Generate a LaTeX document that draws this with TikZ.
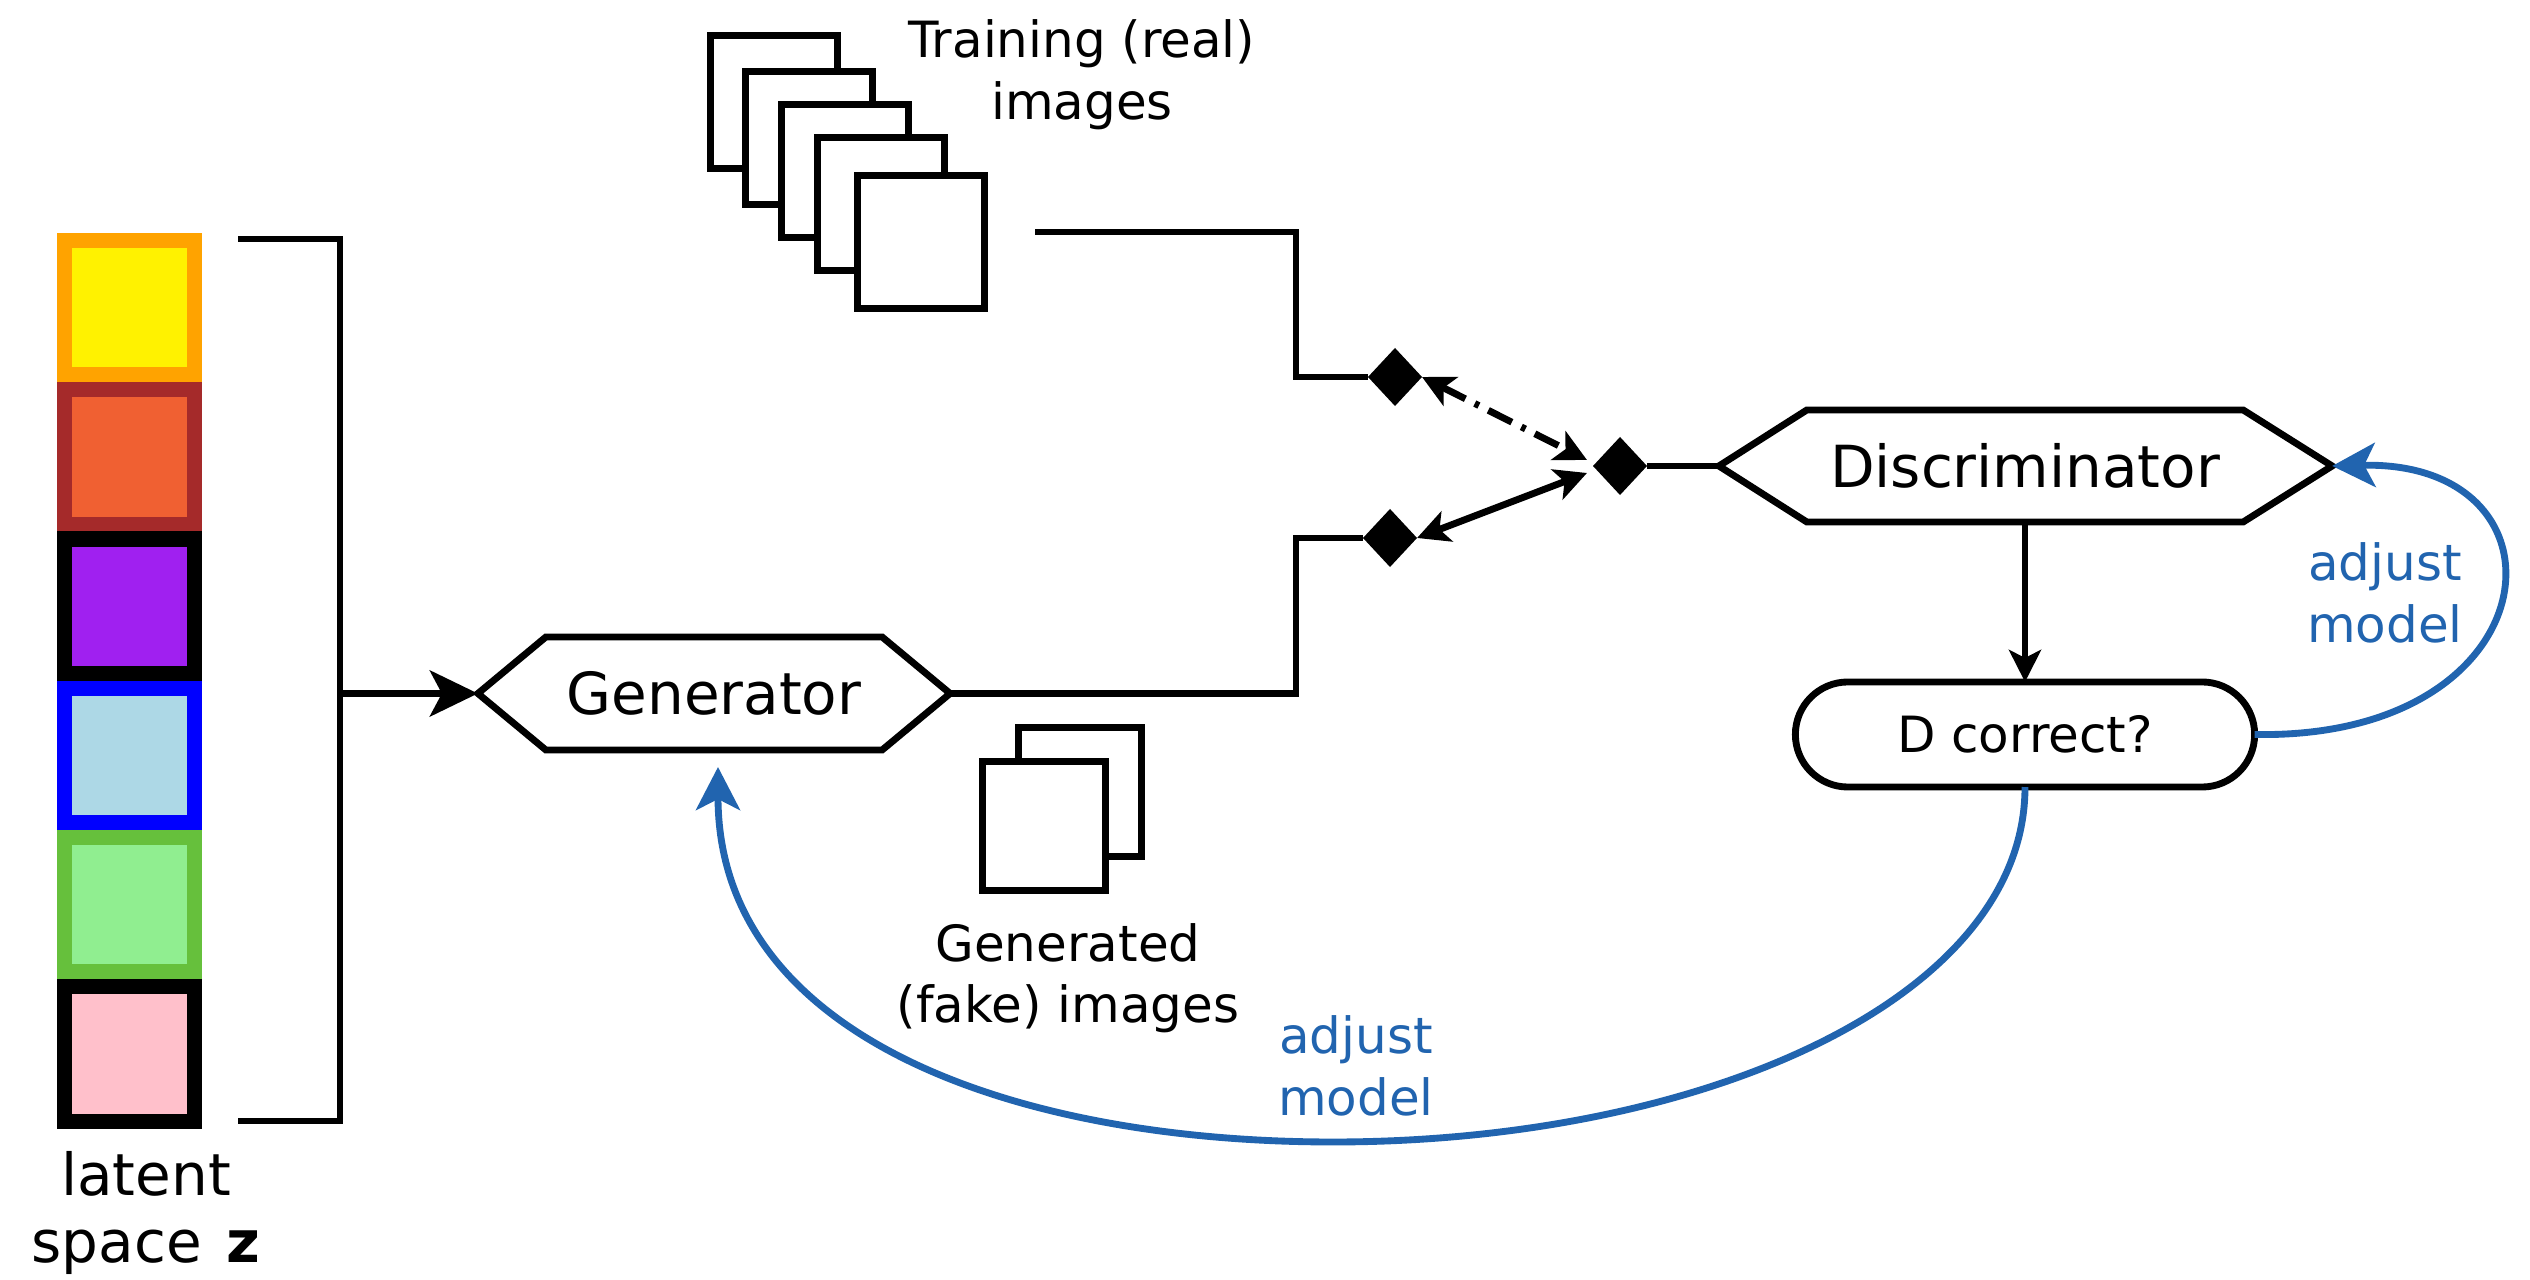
\documentclass[tikz,border=0pt]{standalone}
\usepackage{fontspec}
\setmainfont{DejaVu Sans}
\usetikzlibrary{arrows.meta,calc,shapes.geometric,shapes.misc}

\definecolor{adjblue}{RGB}{33,100,175}
\definecolor{zorange}{RGB}{255,163,0}
\definecolor{zbrown}{RGB}{165,42,42}
\definecolor{zred}{RGB}{240,96,50}
\definecolor{zpurple}{RGB}{160,32,240}
\definecolor{zlblue}{RGB}{173,216,230}
\definecolor{zgreen}{RGB}{102,192,60}
\definecolor{zlgreen}{RGB}{144,238,144}
\definecolor{zpink}{RGB}{255,192,203}

\tikzset{
  smalltip/.tip={Stealth[length=0.32cm,width=0.32cm,inset=0.08cm]},
  bigtip/.tip={Stealth[length=0.48cm,width=0.46cm,inset=0.12cm]},
  fbtip/.tip={Stealth[length=0.43cm,width=0.44cm,inset=0.11cm]}
}

\begin{document}
\begin{tikzpicture}[x=0.01cm,y=-0.01cm,
  line width=1.95pt,
  every node/.style={inner sep=0pt, outer sep=0pt},
  bigtext/.style={font=\fontsize{16.5}{19}\selectfont},
  smalltext/.style={font=\fontsize{14.2}{17.5}\selectfont, align=center},
  latbox/.style={rectangle, minimum width=1.30cm, minimum height=1.343cm, line width=0.15cm},
  imgcard/.style={rectangle, draw, fill=white, line width=2.1pt},
  joint/.style={diamond, fill=black, minimum width=0.54cm, minimum height=0.58cm},
  hexlabel/.style={rectangle, bigtext},
  dashdotline/.style={dash pattern=on 7.5pt off 3pt on 1.3pt off 3pt},
  feedback/.style={adjblue, -fbtip}
]
\fill[white] (0,0) rectangle (2530,1280);
\useasboundingbox (0,0) rectangle (2530,1280);

% latent vector z
\node[latbox, draw=zorange, fill=yellow]  (z1) at (129.5,307.6)  {};
\node[latbox, draw=zbrown,  fill=zred]    (z2) at (129.5,456.9)  {};
\node[latbox, draw=black,   fill=zpurple] (z3) at (129.5,606.2)  {};
\node[latbox, draw=blue,    fill=zlblue]  (z4) at (129.5,755.5)  {};
\node[latbox, draw=zgreen,  fill=zlgreen] (z5) at (129.5,904.8)  {};
\node[latbox, draw=black,   fill=zpink]   (z6) at (129.5,1054.1) {};
\node[bigtext, align=center] (latlbl) at (146,1213) {latent\\space\hspace{0.43em}\textbf{z}};

% bracket collecting the latent vector
\coordinate (brtop) at (238,239);
\coordinate (brbot) at (238,1121);
\coordinate (brmid) at (340,693.5);
\draw (brtop) -| (brmid) |- (brbot);

% generator
\node[hexlabel, minimum width=3.36cm, minimum height=1.13cm] (gen) at (714,693.5) {Generator};
\coordinate (genL) at ($(gen.west)+(-68,0)$);
\coordinate (genR) at ($(gen.east)+(68,0)$);
\draw (gen.north west) -- (gen.north east) -- (genR) -- (gen.south east)
  -- (gen.south west) -- (genL) -- cycle;
\draw[-bigtip] (brmid) -- (genL);

% discriminator
\node[hexlabel, minimum width=4.36cm, minimum height=1.12cm] (disc) at (2025,466) {Discriminator};
\coordinate (disL) at ($(disc.west)+(-88,0)$);
\coordinate (disR) at ($(disc.east)+(89,0)$);
\draw (disc.north west) -- (disc.north east) -- (disR) -- (disc.south east)
  -- (disc.south west) -- (disL) -- cycle;

% training images
\node[imgcard, minimum width=1.27cm, minimum height=1.33cm] (real1) at (774,102) {};
\node[imgcard, minimum width=1.27cm, minimum height=1.33cm] (real2) at (809,138) {};
\node[imgcard, minimum width=1.27cm, minimum height=1.33cm] (real3) at (845,171) {};
\node[imgcard, minimum width=1.27cm, minimum height=1.33cm] (real4) at (881,204) {};
\node[imgcard, minimum width=1.27cm, minimum height=1.33cm] (real5) at (921,242) {};
\node[smalltext] (reallbl) at (1082,75) {Training (real)\\images};

% generated images
\node[imgcard, minimum width=1.23cm, minimum height=1.29cm] (fake1) at (1080,792) {};
\node[imgcard, minimum width=1.23cm, minimum height=1.29cm] (fake2) at (1044,826) {};
\node[smalltext] (fakelbl) at (1068,978) {Generated\\(fake) images};

% switch between real and fake inputs
\node[joint] (ud) at (1395,377) {};
\node[joint] (ld) at (1390,538) {};
\node[joint] (jn) at (1620,466) {};
\coordinate (realout) at (1035,232);
\draw (realout) -- (1296,232) |- (ud.west);
\draw (genR) -- (1296,693.5) |- (ld.west);
\draw (jn.east) -- (disL);
\draw[dashdotline, smalltip-smalltip] (ud.east) -- ($(jn.west)+(-6,-6)$);
\draw[smalltip-smalltip] (ld.east) -- ($(jn.west)+(-6,7)$);

% decision
\node[rounded rectangle, draw, minimum width=4.59cm, minimum height=1.05cm, smalltext] (dc) at (2025,734.5) {D correct?};
\draw[-smalltip] (disc.south) -- (dc.north);

% feedback loops
\draw[feedback] (dc.east) .. controls (2555,740) and (2580,460) .. (disR);
\node[smalltext, text=adjblue] (adjD) at (2385,593) {adjust\\model};
\coordinate (genfb) at ($(gen.south)+(4,17)$);
\draw[feedback] (dc.south) .. controls (2025,1000) and (1700,1142) .. (1333,1142)
  .. controls (1020,1142) and (718,1040) .. (genfb);
\node[smalltext, text=adjblue] (adjG) at (1356,1066) {adjust\\model};
\end{tikzpicture}
\end{document}
